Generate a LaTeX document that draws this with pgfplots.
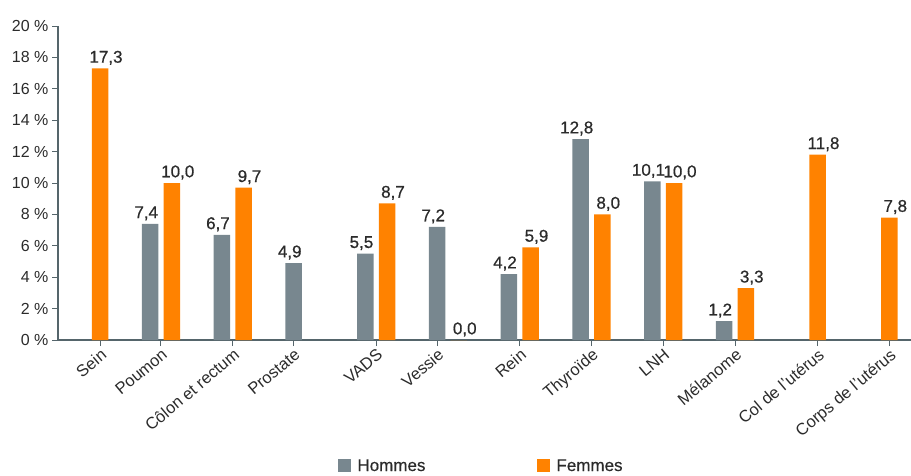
\documentclass[border=0pt]{standalone}
\usepackage{fontspec}
\setmainfont{Liberation Sans}
\newfontface\valfont[FakeBold=0.6]{Liberation Sans}
\newfontface\legfont[FakeBold=0.4]{Liberation Sans}
\usepackage{pgfplots}
\pgfplotsset{compat=1.18}
\definecolor{hommes}{HTML}{78878F}
\definecolor{femmes}{HTML}{FF8200}
\definecolor{axe}{HTML}{55656B}
\definecolor{texte}{HTML}{2B2B2B}

\begin{document}
\begin{tikzpicture}
\begin{axis}[
    scale only axis, width=853pt, height=314pt,
    xmin=-0.4355, xmax=11.453,
    ymin=0, ymax=20,
    axis lines*=left,
    axis line style={axe, line width=1.2pt},
    tick style={axe, line width=1pt},
    tick align=outside, major tick length=6pt,
    ytick={0,2,...,20},
    yticklabel={\pgfmathprintnumber{\tick}~\%},
    y tick label style={font=\fontsize{16}{18}\selectfont, text=texte},
    xtick={0.15,1,2,2.85,4,4.85,6,7,8,9,10.15,11.15},
    xticklabels={Sein,Poumon,Côlon et rectum,Prostate,VADS,Vessie,Rein,Thyroïde,LNH,Mélanome,Col de l'utérus,Corps de l'utérus},
    x tick label style={rotate=40, anchor=north east, inner sep=1pt,
        font=\fontsize{16.5}{18}\selectfont, text=texte},
    /pgf/number format/assume math mode=true,
    ybar, bar width=16.5pt, bar shift=0pt,
    nodes near coords={\pgfmathprintnumber[fixed,fixed zerofill,precision=1,use comma]{\pgfplotspointmeta}},
    nodes near coords style={font=\valfont\fontsize{17}{19}\selectfont, text=texte, /pgf/number format/assume math mode=true},
    legend style={at={(axis description cs:0.4965,-0.401)}, anchor=center,
        draw=none, fill=none, font=\legfont\fontsize{17}{19}\selectfont, text=texte,
        /tikz/every even column/.append style={column sep=110pt}},
    legend columns=2,
    legend image code/.code={\fill[#1] (0pt,-6pt) rectangle (13pt,7pt);},
]
% Hommes
\addplot[fill=hommes, draw=none, nodes near coords style={xshift=-4pt}] coordinates {
    (0.85,7.4)(1.85,6.7)(2.85,4.9)(3.85,5.5)(4.85,7.2)
    (5.85,4.2)(6.85,12.8)(7.85,10.1)(8.85,1.2)
};
% Femmes
\addplot[fill=femmes, draw=none, nodes near coords style={xshift=6pt}] coordinates {
    (0.15,17.3)(1.15,10.0)(2.15,9.7)(4.15,8.7)(5.15,0.0)
    (6.15,5.9)(7.15,8.0)(8.15,10.0)(9.15,3.3)(10.15,11.8)(11.15,7.8)
};
\legend{\hspace{4pt}Hommes,\hspace{4pt}Femmes}
\end{axis}
\pgfresetboundingbox
\path (-58pt,-135pt) rectangle (853pt,340pt);
\end{tikzpicture}
\end{document}
